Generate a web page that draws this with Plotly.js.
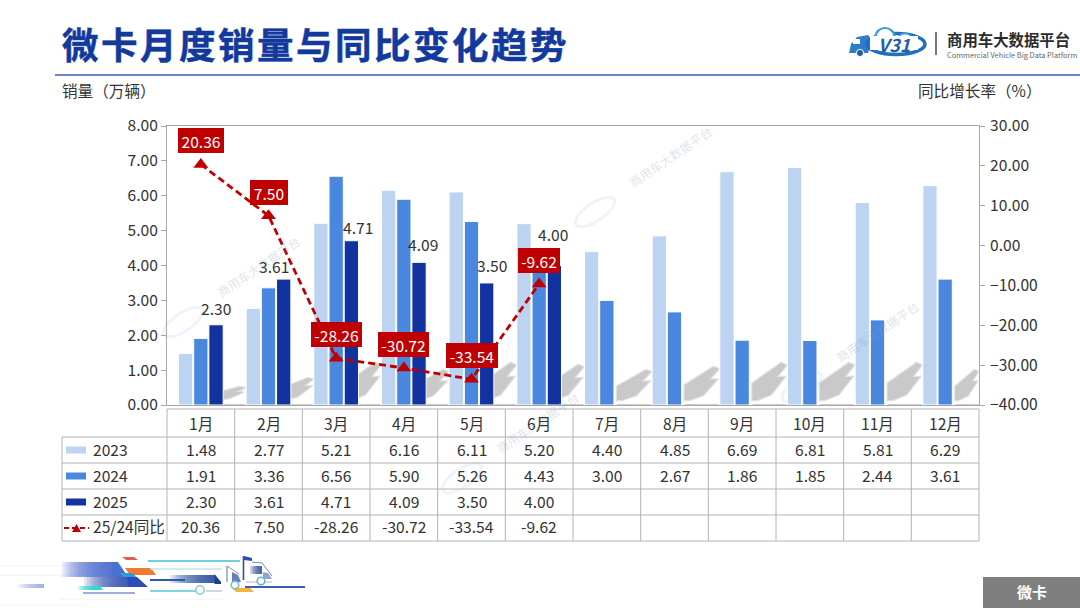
<!DOCTYPE html>
<html><head><meta charset="utf-8">
<script src="https://cdn.plot.ly/plotly-3.0.1.min.js"></script>
<style>html,body{margin:0;padding:0;background:#fff}#c{width:1080px;height:608px}
.gtitle{stroke:#123A9C;stroke-width:0.5px;letter-spacing:2.5px}</style>
</head><body><div id="c"></div>
<script>
const months=["1月","2月","3月","4月","5月","6月","7月","8月","9月","10月","11月","12月"];
const s2023=[1.48,2.77,5.21,6.16,6.11,5.20,4.40,4.85,6.69,6.81,5.81,6.29];
const s2024=[1.91,3.36,6.56,5.90,5.26,4.43,3.00,2.67,1.86,1.85,2.44,3.61];
const s2025=[2.30,3.61,4.71,4.09,3.50,4.00,null,null,null,null,null,null];
const yoy=[20.36,7.50,-28.26,-30.72,-33.54,-9.62,null,null,null,null,null,null];
const FONT='"Noto Sans CJK SC","Noto Sans",sans-serif';
const TXT='#333333', GRID='#b4b4b4', RED='#C00000';
const C23='#BDD3F2', C24='#4A88E0', C25='#1232A0';
const W=1080,H=608,L=167,R=979,T=126,B=405;
const fx=x=>(x-L)/(R-L), fy=y=>(B-y)/(B-T);
const shapes=[],ann=[];
function poly(pts,fill,op,stroke,sw){
  shapes.push({type:'path',xref:'paper',yref:'paper',layer:'below',
    path:'M'+pts.map(p=>fx(p[0])+','+fy(p[1])).join('L')+'Z',fillcolor:fill,opacity:op==null?1:op,line:{width:sw||0,color:stroke||fill}});
}
function line(x0,y0,x1,y1,c,w){
  shapes.push({type:'line',xref:'paper',yref:'paper',layer:'below',x0:fx(x0),x1:fx(x1),y0:fy(y0),y1:fy(y1),line:{color:c,width:w==null?1:w}});
}
function rect(x0,y0,x1,y1,c,op){
  shapes.push({type:'rect',xref:'paper',yref:'paper',layer:'below',x0:fx(x0),x1:fx(x1),y0:fy(y0),y1:fy(y1),fillcolor:c,opacity:op==null?1:op,line:{width:0}});
}
function circ(cx,cy,rx,ry,stroke,w,fill,op){
  shapes.push({type:'circle',xref:'paper',yref:'paper',layer:'below',x0:fx(cx-rx),x1:fx(cx+rx),y0:fy(cy-ry),y1:fy(cy+ry),fillcolor:fill||'rgba(0,0,0,0)',opacity:op==null?1:op,line:{color:stroke,width:w}});
}
function text(x,y,t,size,color,anchor,extra){
  ann.push(Object.assign({xref:'paper',yref:'paper',x:fx(x),y:fy(y),text:t,showarrow:false,xanchor:anchor||'center',yanchor:'middle',
    font:{family:FONT,size:size,color:color||TXT},borderpad:0},extra||{}));
}
// header
line(55,75,1080,75,'#3F5FAE',1.6);
text(60.5,90,'销量（万辆）',15.6,TXT,'left');
text(1043,90,'同比增长率（%）',15.6,TXT,'right');
// grey box bottom right
rect(983,577,1080,608,'#7F7F7F');
text(1032,591,'<b>微卡</b>',15,'#ffffff');
// logo
poly([[849,53],[851,44],[857,37],[868,35],[872,40],[868,53]],'#2F7CC9');
rect(853,39,860,44,'#ffffff');
circ(860,53,3.6,3.6,'#ffffff',1,'#1F5FA8');
circ(896,44,29,10.5,'#1F6FC0',3.6);
circ(885,37,9.5,9,'#3D9BE0',2.2,'#ffffff');
circ(905,39,7,5.5,'#3D9BE0',1.8,'#ffffff');
rect(870,36,918,50,'#ffffff');
text(894,44,'<b><i>V31</i></b>',18,'#1F5FA8');
line(936,32,936,55,'#555555',1.6);
text(946,39.5,'<b>商用车大数据平台</b>',15.4,'#2b2b2b','left');
text(946,54,'Commercial Vehicle Big Data Platform',7.4,'#666666','left');
// watermarks
function mark(x,y){
  const a=-34*Math.PI/180, pts=[];
  for(let k=0;k<28;k++){const t=k/28*2*Math.PI,u=23*Math.cos(t),v=9*Math.sin(t);pts.push([x+u*Math.cos(a)-v*Math.sin(a),y+u*Math.sin(a)+v*Math.cos(a)]);}
  poly(pts,'rgba(0,0,0,0)',1,'rgba(120,165,230,0.13)',3);
  text(x+75,y-56,'商用车大数据平台',12,'rgba(130,150,190,0.28)','center',{textangle:-34});
}
[[183,322],[595,212],[802,387],[462,478]].forEach(p=>mark(p[0],p[1]));
// grey swooshes behind the bars
const tops=[387,378,363,370,363,365,370,367,363,363,363,370];
const cw=(R-L)/12;
const swoosh=[[0,.55],[.85,0],[1,.06],[.72,.38],[.95,.38],[.55,.85],[.15,1],[0,1]];
tops.forEach((top,i)=>{
  const cs=L+i*cw, left=cs+44, right=Math.min(cs+78,R-1), bottom=400;
  const pts=swoosh.map(p=>[left+p[0]*(right-left),top+p[1]*(bottom-top)]);
  poly(pts,'#C9C9C9',1,'rgba(201,201,201,0.55)',2.5);
  line(i<5?cs+56:cs+44,405,i<11?cs+78:R,405,'#9a9a9a',1);
});
// table
const rowY=[409,437,463,489,515,541], rowC=[422.5,448.5,474.5,500.5,526];
line(L,409,R,409,GRID);
rowY.slice(1).forEach(y=>line(62,y,R,y,GRID));
line(62,437,62,541,GRID);
for(let i=0;i<=12;i++) line(L+i*cw,409,L+i*cw,541,GRID);
months.forEach((m,i)=>text(L+(i+.5)*cw,rowC[0],m,15.6));
const fmt=v=>v==null?'':v.toFixed(2);
[s2023,s2024,s2025,yoy].forEach((arr,r)=>arr.forEach((v,i)=>{if(v!=null)text(L+(i+.5)*cw,rowC[r+1],fmt(v),15.6)}));
const names=['2023','2024','2025','25/24同比'];
names.forEach((n,r)=>text(91.5,rowC[r+1],n,15.6,TXT,'left'));
[C23,C24,C25].forEach((c,r)=>rect(66,rowC[r+1]-2,86,rowC[r+1]+5,c));
shapes.push({type:'line',xref:'paper',yref:'paper',layer:'below',x0:fx(64),x1:fx(89),y0:fy(528),y1:fy(528),line:{color:RED,width:2,dash:'5px,3px'}});
poly([[72,532],[81,532],[76.5,524]],RED);
// motif bottom-left: stacked translucent layers build a soft fade
function grad(x0,x1,y0,y1,c,n,a){
  for(let k=0;k<n;k++){
    const s=x0+(x1-x0)*k/n;
    rect(s,y0,x1,y1,c,a||0.13);
  }
}
line(0,566,120,566,'#f1f3f8',1);line(0,575,110,575,'#eef0f7',1);line(60,599,225,599,'#f2f2f2',1);line(0,605,90,605,'#f5f5f5',1);
grad(62,112,562,577,'#4A70D2',18);
poly([[111.5,562],[118,562],[128,577],[111.5,577]],'#4A70D2');
poly([[125,568],[151,568],[156,575],[130,575]],'#F07A30');
grad(84,128,577,587,'#2B4DB5',16);
poly([[127.5,577],[137,577],[148,587],[127.5,587]],'#2B4DB5');
poly([[120,573],[133,573],[136,577],[123,577]],'#2E9BD8');
grad(78,92,586,590,'#35D5D0',10,0.2);poly([[91.5,586],[100,586],[103,590],[91.5,590]],'#35D5D0');
poly([[122,557],[134,557],[138,560],[126,560]],'#E25B55');
grad(18,44,584,588,'#8FA6DD',12,0.12);
line(83,593,135,593,'#7D95CE',1.5);
line(148,561,240,561,'#3FBFD2',1.6);
line(150,569,222,569,'#BFE6EC',1.6);
grad(170,215,575,583,'#2A4C9A',16,0.13);
poly([[214.5,574],[221,582],[221,584],[214.5,584]],'#1E3F8F');
line(150,580,185,580,'#2F55B8',2);
line(150,591,198,591,'#58C8D0',1.4);
line(206,591,222,591,'#9CAAC8',1);
circ(200,590,4.2,4.2,'#8CCAD8',1.6,'#ffffff');
poly([[232,588],[250,588],[254,592],[236,592]],'#F5B53D');
line(245,587,305,587,'#3F5AB5',2.2);
// mid truck
poly([[226,566],[228,566],[241,578],[243,585],[226,584]],'#ffffff');
line(227,566,227,582,'#58749F',1);line(227,566,239,574,'#7D95B5',1);
poly([[232,572],[238,575],[241,582],[232,582]],'#3E5FA8',0.8);
circ(235,585,3.8,3.8,'#7ABBD0',1.6,'#ffffff');
// front truck
line(243.5,556,243.5,580,'#2B4DB5',1.6);
poly([[244,556],[252,558],[252,561],[244,560]],'#2B4DB5');
grad(250,262,566,574,'#2A4C9A',8,0.22);
line(252,562,262,563,'#6F8FBF',1);line(262,563,272,576,'#6F8FBF',1);line(246,582,272,582,'#B7C6DE',1.2);
poly([[263,572],[268,573],[272,579],[263,579]],'#5F7FC0',0.7);
circ(261,581,3.8,3.8,'#6FB0C8',1.6,'#ffffff');
// value labels for 2025
const lblShift=[[0,-17],[-10,-13.5],[7,-13.5],[4,-18],[5,-18],[-1,-32]];
s2025.forEach((v,i)=>{ if(v==null)return;
  ann.push({xref:'x',yref:'y',x:months[i],y:v,text:fmt(v),showarrow:false,xanchor:'center',yanchor:'middle',
    xshift:15.2+lblShift[i][0],yshift:-lblShift[i][1],font:{family:FONT,size:15.6,color:TXT}});
});
// red labels for yoy
const redShift=[-23.5,-23,-24,-24,-24,-23];
const redW=[46,38,51,51,52,42];
yoy.forEach((v,i)=>{ if(v==null)return;
  ann.push({xref:'x',yref:'y2',x:months[i],y:v,text:fmt(v),showarrow:false,xanchor:'center',yanchor:'middle',
    yshift:-redShift[i],bgcolor:RED,borderpad:1,borderwidth:1,bordercolor:RED,width:redW[i]-4,height:21,align:'center',font:{family:FONT,size:15.6,color:'#ffffff'}});
});
const bar=(n,y,c)=>({type:'bar',name:n,x:months,y:y,marker:{color:c,line:{color:'#ffffff',width:1}},hoverinfo:'skip'});
const traces=[bar('2023',s2023,C23),bar('2024',s2024,C24),bar('2025',s2025,C25),
 {type:'scatter',mode:'lines+markers',name:'25/24同比',x:months,y:yoy,yaxis:'y2',
  line:{color:RED,width:2.8,dash:'7px,4px'},marker:{symbol:'triangle-up',size:13,color:RED},hoverinfo:'skip',cliponaxis:false}];
const tf={family:FONT,size:15.6,color:TXT};
const layout={width:W,height:H,margin:{l:L,r:W-R,t:T,b:H-B,pad:0},paper_bgcolor:'#fff',plot_bgcolor:'rgba(0,0,0,0)',showlegend:false,
 barmode:'group',bargap:0.326,bargroupgap:0.06,
 font:{family:FONT,size:15,color:TXT},
 title:{text:'<b>微卡月度销量与同比变化趋势</b>',x:62/W,xanchor:'left',y:1-46/H,yanchor:'middle',font:{family:FONT,size:36.5,color:'#123A9C'}},
 xaxis:{type:'category',categoryorder:'array',categoryarray:months,showticklabels:false,ticks:'',showgrid:false,zeroline:false,showline:true,mirror:true,linecolor:'#a8a8a8',linewidth:1,range:[-0.5,11.5]},
 yaxis:{range:[0,8],dtick:1,tickformat:'.2f',ticks:'outside',ticklen:5,tickcolor:'#a8a8a8',tickwidth:1,showgrid:false,zeroline:false,showline:true,linecolor:'#a8a8a8',linewidth:1,tickfont:tf},
 yaxis2:{range:[-40,30],dtick:10,tickformat:'.2f',overlaying:'y',side:'right',ticks:'outside',ticklen:5,tickcolor:'#a8a8a8',tickwidth:1,showgrid:false,zeroline:false,showline:true,linecolor:'#a8a8a8',linewidth:1,tickfont:tf,ticklabelstandoff:2},
 shapes:shapes,annotations:ann};
Plotly.newPlot('c',traces,layout,{displayModeBar:false,staticPlot:true});
</script></body></html>
